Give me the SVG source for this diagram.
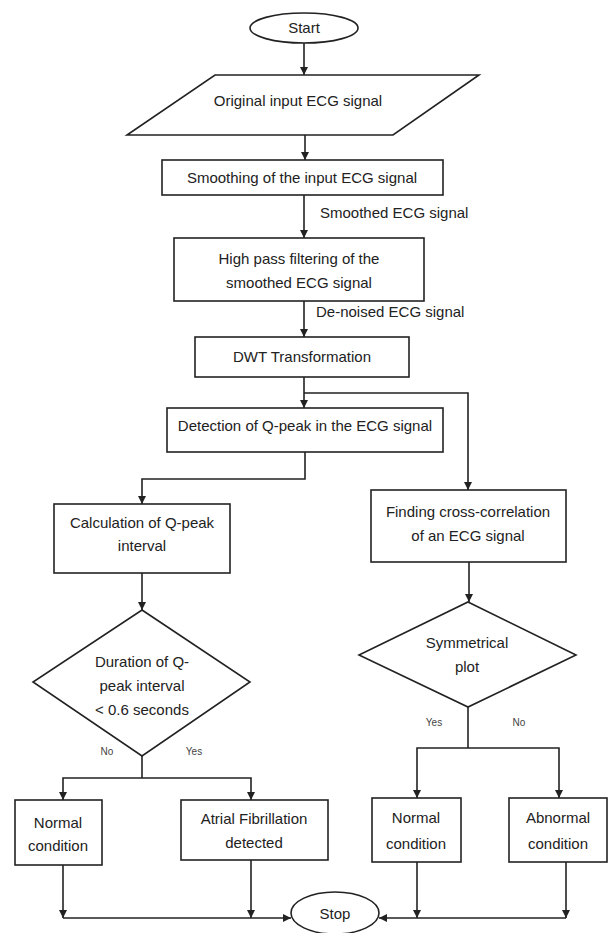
<svg xmlns="http://www.w3.org/2000/svg" width="611" height="933" viewBox="0 0 611 933">
<style>
.s{fill:#fff;stroke:#222;stroke-width:1.6}
.t{font-family:"Liberation Sans",Arial,sans-serif;font-size:15px;fill:#222;text-anchor:middle}
.l{font-family:"Liberation Sans",Arial,sans-serif;font-size:15px;fill:#222}
.y{font-family:"Liberation Sans",Arial,sans-serif;font-size:10px;fill:#444;text-anchor:middle}
.c{fill:none;stroke:#222;stroke-width:1.6}
</style>
<defs>
<marker id="a" viewBox="0 0 10 10" refX="10" refY="5" markerWidth="8" markerHeight="8" markerUnits="userSpaceOnUse" orient="auto">
<path d="M0,0 L10,5 L0,10 Z" fill="#222"/>
</marker>
</defs>
<rect width="611" height="933" fill="#fff"/>
<g id="connectors">
<path class="c" d="M304,43 V75" marker-end="url(#a)"/>
<path class="c" d="M305,135 V160" marker-end="url(#a)"/>
<path class="c" d="M304,195 V238" marker-end="url(#a)"/>
<path class="c" d="M304,301 V337" marker-end="url(#a)"/>
<path class="c" d="M304,377 V408" marker-end="url(#a)"/>
<path class="c" d="M304,393 H468 V490" marker-end="url(#a)"/>
<path class="c" d="M305,452 V479 H142 V504" marker-end="url(#a)"/>
<path class="c" d="M142,573 V610" marker-end="url(#a)"/>
<path class="c" d="M142,756 V778"/>
<path class="c" d="M142,778 H63 V800" marker-end="url(#a)"/>
<path class="c" d="M142,778 H251 V800" marker-end="url(#a)"/>
<path class="c" d="M63,865 V918" marker-end="url(#a)"/>
<path class="c" d="M251,860 V918" marker-end="url(#a)"/>
<path class="c" d="M63,918 H291" marker-end="url(#a)"/>
<path class="c" d="M469,562 V602" marker-end="url(#a)"/>
<path class="c" d="M468,707 V748"/>
<path class="c" d="M468,748 H417 V798" marker-end="url(#a)"/>
<path class="c" d="M468,748 H559 V798" marker-end="url(#a)"/>
<path class="c" d="M417,862 V918" marker-end="url(#a)"/>
<path class="c" d="M566,862 V918" marker-end="url(#a)"/>
<path class="c" d="M566,918 H379" marker-end="url(#a)"/>
<text class="l" x="320" y="218">Smoothed ECG signal</text>
<text class="l" x="316" y="317">De-noised ECG signal</text>
<text class="y" x="107" y="755">No</text>
<text class="y" x="194" y="755">Yes</text>
<text class="y" x="434" y="726">Yes</text>
<text class="y" x="519" y="726">No</text>
</g>
<g id="start">
<ellipse class="s" cx="304" cy="28" rx="54" ry="15"/>
<text class="t" x="304" y="33">Start</text>
</g>
<g id="input">
<polygon class="s" points="215,75 479,75 393,135 127,135"/>
<text class="t" x="298" y="106">Original input ECG signal</text>
</g>
<g id="smoothing">
<rect class="s" x="162" y="160" width="281" height="35"/>
<text class="t" x="302" y="183">Smoothing of the input ECG signal</text>
</g>
<g id="highpass">
<rect class="s" x="174" y="238" width="250" height="63"/>
<text class="t" x="299" y="264">High pass filtering of the</text>
<text class="t" x="299" y="288">smoothed ECG signal</text>
</g>
<g id="dwt">
<rect class="s" x="195" y="337" width="214" height="40"/>
<text class="t" x="302" y="362">DWT Transformation</text>
</g>
<g id="detection">
<rect class="s" x="167" y="408" width="276" height="44"/>
<text class="t" x="305" y="431">Detection of Q-peak in the ECG signal</text>
</g>
<g id="calculation">
<rect class="s" x="54" y="504" width="176" height="69"/>
<text class="t" x="142" y="528">Calculation of Q-peak</text>
<text class="t" x="142" y="551">interval</text>
</g>
<g id="duration">
<polygon class="s" points="142,610 250,682 142,756 33,682"/>
<text class="t" x="142" y="667">Duration of Q-</text>
<text class="t" x="142" y="691">peak interval</text>
<text class="t" x="142" y="715">&lt; 0.6 seconds</text>
</g>
<g id="normal1">
<rect class="s" x="15" y="800" width="87" height="65"/>
<text class="t" x="58" y="828">Normal</text>
<text class="t" x="58" y="851">condition</text>
</g>
<g id="af">
<rect class="s" x="181" y="800" width="147" height="60"/>
<text class="t" x="254" y="824">Atrial Fibrillation</text>
<text class="t" x="254" y="848">detected</text>
</g>
<g id="crosscorr">
<rect class="s" x="371" y="490" width="195" height="72"/>
<text class="t" x="468" y="517">Finding cross-correlation</text>
<text class="t" x="468" y="541">of an ECG signal</text>
</g>
<g id="symmetrical">
<polygon class="s" points="468,602 576,655 468,707 359,655"/>
<text class="t" x="467" y="648">Symmetrical</text>
<text class="t" x="467" y="672">plot</text>
</g>
<g id="normal2">
<rect class="s" x="372" y="798" width="89" height="64"/>
<text class="t" x="416" y="823">Normal</text>
<text class="t" x="416" y="849">condition</text>
</g>
<g id="abnormal">
<rect class="s" x="509" y="798" width="98" height="64"/>
<text class="t" x="558" y="823">Abnormal</text>
<text class="t" x="558" y="849">condition</text>
</g>
<g id="stop">
<ellipse class="s" cx="335" cy="913" rx="44" ry="21"/>
<text class="t" x="335" y="919">Stop</text>
</g>
</svg>
